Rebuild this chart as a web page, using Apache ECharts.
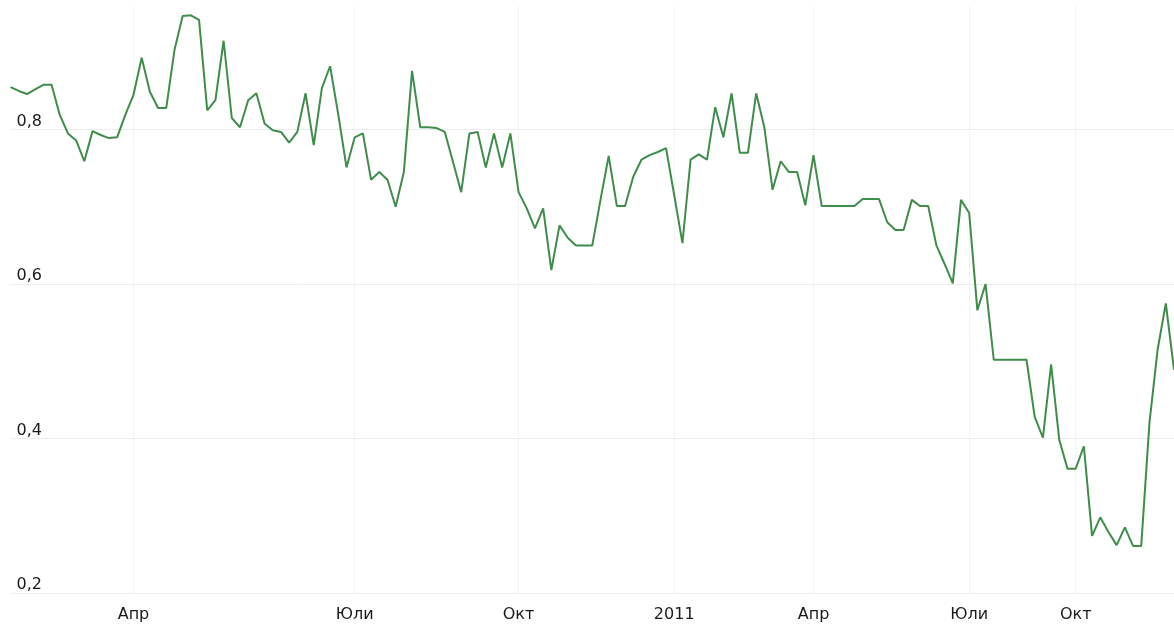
<!DOCTYPE html>
<html>
<head>
<meta charset="utf-8">
<script src="https://cdn.jsdelivr.net/npm/echarts@6/dist/echarts.min.js"></script>
<style>
  html, body { margin: 0; padding: 0; background: #ffffff; }
  #chartLine { width: 1174px; height: 624px; }
</style>
</head>
<body>
<div id="chartLine"></div>
<script>
  // weekly values
  const values = [
    0.855, 0.850, 0.846, 0.852, 0.858, 0.858, 0.819, 0.795, 0.786, 0.759,
    0.798, 0.793, 0.789, 0.790, 0.819, 0.845, 0.893, 0.849, 0.828, 0.828,
    0.903, 0.947, 0.948, 0.942, 0.825, 0.838, 0.915, 0.815, 0.803, 0.838,
    0.847, 0.808, 0.799, 0.797, 0.783, 0.797, 0.847, 0.780, 0.854, 0.882,
    0.819, 0.751, 0.790, 0.795, 0.735, 0.745, 0.735, 0.700, 0.745, 0.876,
    0.803, 0.803, 0.802, 0.797, 0.758, 0.719, 0.795, 0.797, 0.751, 0.795,
    0.751, 0.795, 0.719, 0.698, 0.672, 0.698, 0.618, 0.676, 0.660, 0.650,
    0.650, 0.650, 0.709, 0.766, 0.701, 0.701, 0.739, 0.761, 0.767, 0.771,
    0.776, 0.715, 0.653, 0.761, 0.768, 0.761, 0.829, 0.790, 0.847, 0.770,
    0.770, 0.847, 0.803, 0.722, 0.759, 0.745, 0.745, 0.702, 0.767, 0.701,
    0.701, 0.701, 0.701, 0.701, 0.710, 0.710, 0.710, 0.680, 0.670, 0.670,
    0.709, 0.701, 0.701, 0.650, 0.626, 0.601, 0.709, 0.692, 0.566, 0.600,
    0.502, 0.502, 0.502, 0.502, 0.502, 0.428, 0.401, 0.496, 0.398, 0.361,
    0.361, 0.390, 0.274, 0.298, 0.279, 0.262, 0.285, 0.261, 0.261, 0.420,
    0.515, 0.575, 0.489
  ];
  const weeks = values.map((v, i) => String(i));

  // where the month labels sit along the weeks
  const tickIdx = [15, 42, 62, 81, 98, 117, 130];
  const tickText = ['Апр', 'Юли', 'Окт', '2011', 'Апр', 'Юли', 'Окт'];

  const isTick = (index) => tickIdx.indexOf(index) !== -1;

  const myChartLine = echarts.init(document.getElementById('chartLine'));

  let optionLine = {
    backgroundColor: '#ffffff',
    animation: false,
    grid: {
      left: 10.6,
      right: -2.4,
      top: 6,
      bottom: 31,
      containLabel: false
    },
    xAxis: {
      type: 'category',
      boundaryGap: false,
      data: weeks,
      axisLine: { show: false },
      axisTick: { show: false },
      axisLabel: {
        interval: isTick,
        margin: 14,
        color: '#1a1a1a',
        fontFamily: 'DejaVu Sans',
        fontSize: 16,
        formatter: (val, index) => tickText[tickIdx.indexOf(index)] || ''
      },
      splitLine: {
        show: true,
        interval: isTick,
        lineStyle: { color: '#f3f3f3', width: 1 }
      }
    },
    yAxis: {
      type: 'value',
      min: 0.2,
      max: 0.96,
      interval: 0.2,
      axisLine: { show: false },
      axisTick: { show: false },
      axisLabel: {
        inside: true,
        margin: 6,
        verticalAlign: 'bottom',
        color: '#1a1a1a',
        fontFamily: 'DejaVu Sans',
        fontSize: 16,
        showMaxLabel: false,
        formatter: (v) => v.toFixed(1).replace('.', ',')
      },
      splitLine: {
        showMaxLine: false,
        lineStyle: { color: '#ececec', width: 1 }
      }
    },
    series: [
      {
        name: 'value',
        type: 'line',
        data: values,
        symbol: 'none',
        smooth: false,
        lineStyle: { color: '#3f8c4b', width: 2 }
      }
    ]
  };
  myChartLine.setOption(optionLine);
</script>
</body>
</html>
